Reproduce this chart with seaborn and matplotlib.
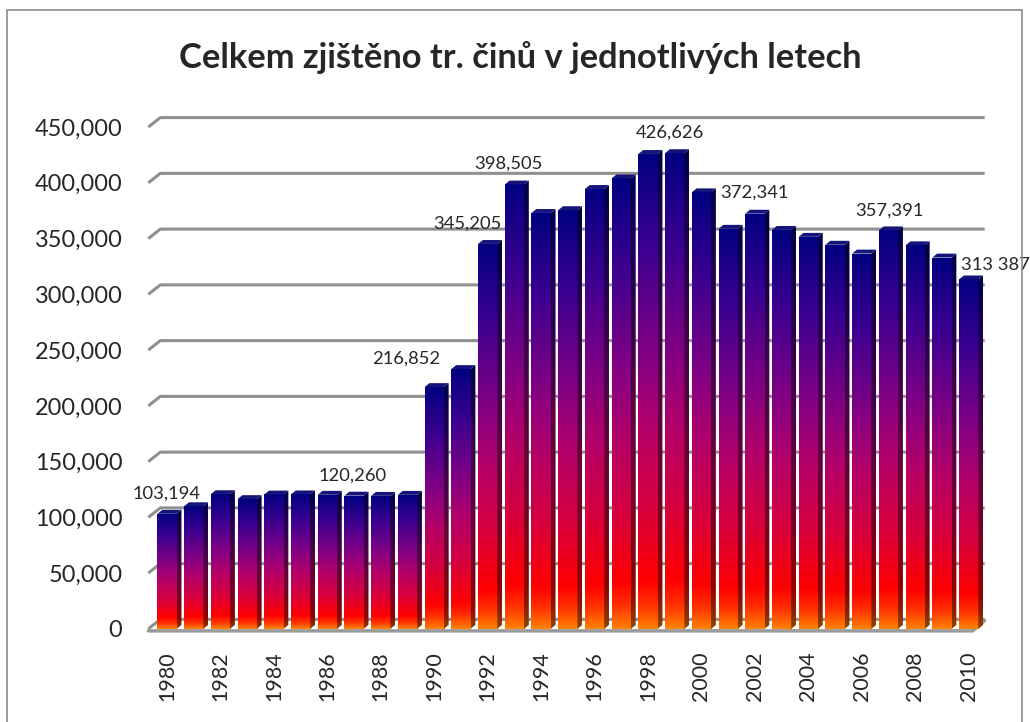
import numpy as np
import pandas as pd
import matplotlib
matplotlib.use("Agg")
import matplotlib.pyplot as plt
from matplotlib.colors import LinearSegmentedColormap
from matplotlib.patches import Polygon, Rectangle
from matplotlib.ticker import FuncFormatter
import seaborn as sns

years = list(range(1980, 2011))
crimes = [103194, 110000, 120800, 116400, 120500, 120600, 120260, 119500, 119300, 120200,
          216852, 233000, 345205, 398505, 373000, 375500, 394500, 404000, 425900, 426626,
          391500, 358800, 372341, 357800, 351600, 344500, 336600, 357391, 344000, 333000,
          313387]

# which bars carry a value label, and the text shown
label_years = [1980, 1986, 1990, 1992, 1993, 1999, 2002, 2007, 2010]
label_texts = ["103,194", "120,260", "216,852", "345,205", "398,505",
               "426,626", "372,341", "357,391", "313 387"]

df = pd.DataFrame({"year": [str(y) for y in years], "crimes": crimes})

sns.set_style("white")
plt.rcParams["font.family"] = ["Lato", "DejaVu Sans"]

fig = plt.figure(figsize=(10.3, 7.22), dpi=100)
ax = fig.add_axes([0.144, 0.129, 0.812, 0.695])

sns.barplot(data=df, x="year", y="crimes", ax=ax, width=0.72, color="navy",
            edgecolor="none", zorder=3)

grad = LinearSegmentedColormap.from_list("bar", [
    (0.0, "#ff8000"), (0.05, "#ff3000"), (0.10, "#ff0000"), (0.25, "#d8003c"),
    (0.42, "#b40068"), (0.55, "#8c0080"), (0.65, "#6c0088"), (0.80, "#3c0090"),
    (0.92, "#1a0088"), (1.0, "#000080")])
side_grad = LinearSegmentedColormap.from_list(
    "side", [tuple(np.array(matplotlib.colors.to_rgb(grad(v))) * 0.55) for v in np.linspace(0, 1, 20)])

xlim = (-0.7, 30.6)
ylim = (0, 450000)
depth_x = 0.18
depth_y = 3500
col = np.linspace(0, 1, 256).reshape(-1, 1)

for p in list(ax.patches):
    x0, w, h = p.get_x(), p.get_width(), p.get_height()
    p.set_facecolor("none")
    im = ax.imshow(col, extent=[x0, x0 + w, 0, h], origin="lower", aspect="auto",
                   cmap=grad, zorder=3, interpolation="bilinear")
    im.set_clip_path(p)
    side = Polygon([(x0 + w, 0), (x0 + w + depth_x, depth_y), (x0 + w + depth_x, h + depth_y),
                    (x0 + w, h)], closed=True, facecolor="none", edgecolor="none")
    ax.add_patch(side)
    im2 = ax.imshow(col, extent=[x0 + w, x0 + w + depth_x, 0, h + depth_y], origin="lower",
                    aspect="auto", cmap=side_grad, zorder=3, interpolation="bilinear")
    im2.set_clip_path(side)
    top = Polygon([(x0, h), (x0 + w, h), (x0 + w + depth_x, h + depth_y), (x0 + depth_x, h + depth_y)],
                  closed=True, facecolor="#14147a", edgecolor="none", zorder=3, clip_on=False)
    ax.add_patch(top)

ax.set_xlim(*xlim)
ax.set_ylim(*ylim)

# 3D-like back wall gridlines with slanted left end
grid_off = 8500
for v in range(0, 450001, 50000):
    ax.plot([xlim[0], xlim[0] + 0.45, xlim[1]], [v, v + grid_off, v + grid_off],
            color="#909090", lw=2.2, zorder=1, clip_on=False, solid_capstyle="butt")
# floor
ax.plot([xlim[0], 30.15, xlim[1]], [-1800, -1800, grid_off - 1000], color="#9a9a9a",
        lw=2.5, zorder=2, clip_on=False)

ax.yaxis.set_major_formatter(FuncFormatter(lambda v, _: f"{int(v):,}"))
ax.set_yticks(range(0, 450001, 50000))
ax.tick_params(axis="y", labelsize=16, pad=18.7, length=0)
ax.set_xticks(range(0, len(years), 2))
ax.set_xticklabels([str(y) for y in years[::2]], rotation=90, fontsize=16)
ax.tick_params(axis="x", length=0, pad=16)
ax.set_xlabel("")
ax.set_ylabel("")
for s in ax.spines.values():
    s.set_visible(False)

# value labels (pixel offsets from the bar top)
label_dx = [-2, 24, -29, -22, -7, -6, -2, 0, 25]
label_dy = [20, 19, 28, 20, 21, 21, 21, 20, 14]
anns = []
for yr, txt, dx, dy in zip(label_years, label_texts, label_dx, label_dy):
    i = years.index(yr)
    a = ax.annotate(txt, (i + 0.05, crimes[i]), xytext=(dx * 0.72, dy * 0.72),
                    textcoords="offset points", ha="center", va="center", fontsize=13,
                    annotation_clip=False, zorder=5)
    anns.append(a)

title = fig.text(0.505, 0.921, "Celkem zjištěno tr. činů v jednotlivých letech",
                 ha="center", va="center", fontsize=24, fontweight="bold")

# size the texts so they take the same room as in the original (Calibri) chart
fig.canvas.draw()
r = fig.canvas.get_renderer()
yl = ax.get_yticklabels()[-1]
ax.tick_params(axis="y", labelsize=16 * 87 / yl.get_window_extent(r).width)
xl = ax.get_xticklabels()[0]
ax.tick_params(axis="x", labelsize=16 * 50 / xl.get_window_extent(r).height)
title.set_fontsize(24 * 682 / title.get_window_extent(r).width)
lab_size = 13 * 68 / anns[2].get_window_extent(r).width
for a in anns:
    a.set_fontsize(lab_size)

fig.patches.append(Rectangle((0.007, -0.02), 0.985, 1.006, transform=fig.transFigure,
                             fill=False, edgecolor="#8c8c8c", lw=1.2))

fig.savefig("out.png", dpi=100)
